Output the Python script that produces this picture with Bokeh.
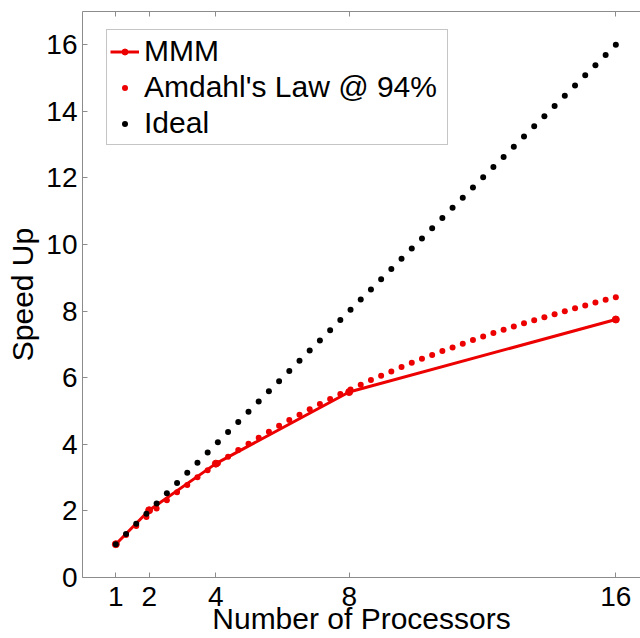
from bokeh.plotting import figure
from bokeh.models import LinearAxis, FixedTicker, Legend, LegendItem, Range1d
from bokeh.embed import file_html
from bokeh.resources import INLINE

# Processor counts measured for the MMM benchmark and its speed-up
mmm_procs = [1, 2, 4, 8, 16]
mmm_speedup = [1.0, 2.02, 3.42, 5.57, 7.75]

# Fine sampling of processor counts (50 samples, 1..16) for the reference curves
procs_fine = [
    1.000, 1.306, 1.612, 1.918, 2.224, 2.531, 2.837, 3.143, 3.449, 3.755,
    4.061, 4.367, 4.673, 4.980, 5.286, 5.592, 5.898, 6.204, 6.510, 6.816,
    7.122, 7.429, 7.735, 8.041, 8.347, 8.653, 8.959, 9.265, 9.571, 9.878,
    10.184, 10.490, 10.796, 11.102, 11.408, 11.714, 12.020, 12.327, 12.633, 12.939,
    13.245, 13.551, 13.857, 14.163, 14.469, 14.776, 15.082, 15.388, 15.694, 16.000,
]

# Amdahl's law speed-up with a 94% parallel fraction at those counts
amdahl_speedup = [
    1.00, 1.28, 1.55, 1.82, 2.07, 2.32, 2.56, 2.78, 3.01, 3.22,
    3.43, 3.63, 3.83, 4.02, 4.20, 4.38, 4.56, 4.73, 4.89, 5.05,
    5.21, 5.36, 5.51, 5.65, 5.79, 5.93, 6.06, 6.19, 6.32, 6.45,
    6.57, 6.68, 6.80, 6.91, 7.02, 7.13, 7.24, 7.34, 7.44, 7.54,
    7.64, 7.73, 7.82, 7.91, 8.00, 8.09, 8.17, 8.26, 8.34, 8.42,
]

# Ideal (linear) speed-up equals the processor count
ideal_speedup = list(procs_fine)

x_ticks = [1, 2, 4, 8, 16]
y_ticks = [0, 2, 4, 6, 8, 10, 12, 14, 16]

FONT = "Liberation Sans"
RED = "#ec0000"
AXIS_GREY = "#8c8c8c"

p = figure(
    width=640, height=638,
    output_backend="svg", toolbar_location=None,
    x_range=Range1d(0, 16.74), y_range=Range1d(0, 17.0),
    x_axis_location=None, y_axis_location=None,
    min_border_left=82, min_border_right=0,
    min_border_top=11, min_border_bottom=61,
)
p.outline_line_color = None
p.grid.visible = False
p.background_fill_color = "white"
p.border_fill_color = "white"


def style_axis(ax, show_labels=True):
    ax.axis_line_color = AXIS_GREY
    ax.axis_line_width = 1
    ax.major_tick_line_color = AXIS_GREY
    ax.major_tick_in = 5
    ax.major_tick_out = 0
    ax.minor_tick_line_color = None
    ax.major_label_text_font = FONT
    ax.major_label_text_font_size = "28px"
    ax.major_label_text_color = "black" if show_labels else None
    ax.axis_label_text_font = FONT
    ax.axis_label_text_font_size = "30px"
    ax.axis_label_text_font_style = "normal"
    ax.axis_label_text_color = "black"


xaxis = LinearAxis(ticker=FixedTicker(ticks=x_ticks), axis_label="Number of Processors")
style_axis(xaxis)
xaxis.major_label_standoff = 9
xaxis.axis_label_standoff = -7
p.add_layout(xaxis, "below")

yaxis = LinearAxis(ticker=FixedTicker(ticks=y_ticks), axis_label="Speed Up")
style_axis(yaxis)
yaxis.major_label_standoff = 5
yaxis.axis_label_standoff = 4
p.add_layout(yaxis, "left")

top_axis = LinearAxis(ticker=FixedTicker(ticks=x_ticks))
style_axis(top_axis, show_labels=False)
top_axis.major_label_text_font_size = "0px"
top_axis.major_label_standoff = 0
p.add_layout(top_axis, "above")

# Measured MMM speed-up: solid line with point markers
mmm_line = p.line(mmm_procs, mmm_speedup, line_color=RED, line_width=3)
mmm_pts = p.scatter(mmm_procs, mmm_speedup, size=7, fill_color=RED, line_color=RED)

# Amdahl's law curve drawn as a dotted series of points
amdahl_pts = p.scatter(procs_fine, amdahl_speedup, size=6, fill_color=RED, line_color=None)

# Ideal linear speed-up, also dotted
ideal_pts = p.scatter(procs_fine, ideal_speedup, size=6, fill_color="black", line_color=None)

legend = Legend(
    items=[
        LegendItem(label="MMM", renderers=[mmm_line, mmm_pts]),
        LegendItem(label="Amdahl's Law @ 94%", renderers=[amdahl_pts]),
        LegendItem(label="Ideal", renderers=[ideal_pts]),
    ],
    location=(24, 432),
    label_text_font=FONT,
    label_text_font_size="30px",
    label_text_color="black",
    label_standoff=5,
    label_height=36,
    label_width=300,
    glyph_height=15,
    glyph_width=29,
    spacing=0,
    padding=3,
    margin=0,
    border_line_color=AXIS_GREY,
    border_line_width=1,
    background_fill_color="white",
    background_fill_alpha=1.0,
)
p.add_layout(legend, "center")

open("out.html", "w").write(file_html(p, INLINE))
